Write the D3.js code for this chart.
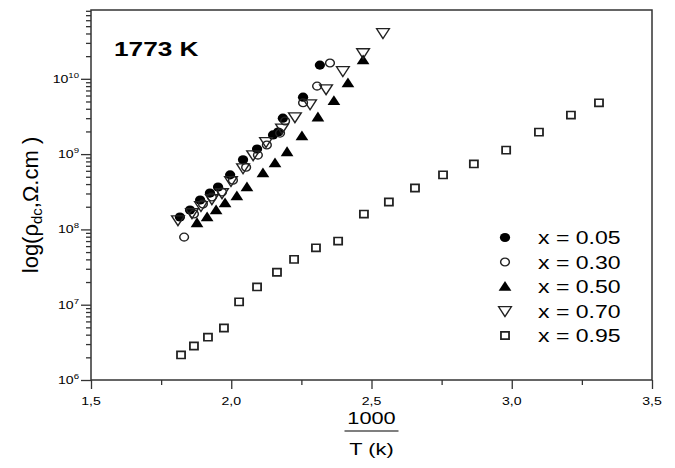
<!DOCTYPE html>
<html lang="en">
<head>
<meta charset="utf-8">
<script src="https://cdn.jsdelivr.net/npm/d3@7"></script>
<style>
    body { margin: 0; background: #fff; }
    text { font-family: Arial, "Liberation Sans", sans-serif; fill: #000; }
</style>
</head>
<body>
<div id="graph"></div>
<script>
    // 1000/T values and resistivity (Ohm.cm), one pair of arrays per composition
    const x005 = [1.817, 1.853, 1.889, 1.924, 1.953, 1.996, 2.042, 2.092, 2.149, 2.167, 2.184, 2.256, 2.316];
    const rho005 = [1.46e8, 1.81e8, 2.46e8, 3.04e8, 3.66e8, 5.3e8, 8.4e8, 1.17e9, 1.8e9, 1.96e9, 3.0e9, 5.7e9, 1.52e10];

    const x030 = [1.832, 1.867, 1.899, 1.931, 1.967, 2.006, 2.053, 2.095, 2.127, 2.174, 2.192, 2.256, 2.306, 2.352];
    const rho030 = [7.9e7, 1.6e8, 2.17e8, 2.69e8, 3.14e8, 4.5e8, 6.7e8, 9.7e8, 1.32e9, 1.9e9, 2.75e9, 4.8e9, 8.0e9, 1.62e10];

    const x050 = [1.878, 1.914, 1.946, 1.978, 2.020, 2.056, 2.113, 2.156, 2.199, 2.252, 2.309, 2.366, 2.416, 2.470];
    const rho050 = [1.22e8, 1.46e8, 1.81e8, 2.24e8, 2.78e8, 3.66e8, 5.6e8, 7.6e8, 1.07e9, 1.74e9, 3.1e9, 5.1e9, 8.8e9, 1.78e10];

    const x070 = [1.810, 1.860, 1.892, 1.931, 1.967, 1.999, 2.042, 2.078, 2.124, 2.181, 2.227, 2.281, 2.338, 2.398, 2.470, 2.541];
    const rho070 = [1.33e8, 1.65e8, 2.05e8, 2.53e8, 3.04e8, 4.4e8, 6.5e8, 9.7e8, 1.45e9, 2.2e9, 3.1e9, 4.6e9, 7.3e9, 1.27e10, 2.2e10, 4.06e10];

    const x095 = [1.821, 1.867, 1.917, 1.974, 2.028, 2.092, 2.163, 2.224, 2.302, 2.381, 2.473, 2.562, 2.655, 2.755, 2.865, 2.980, 3.097, 3.211, 3.311];
    const rho095 = [2.15e6, 2.83e6, 3.7e6, 4.9e6, 1.09e7, 1.72e7, 2.7e7, 4.0e7, 5.7e7, 7.0e7, 1.6e8, 2.31e8, 3.55e8, 5.3e8, 7.4e8, 1.13e9, 1.96e9, 3.3e9, 4.8e9];

    const seriesLabels = ["x = 0.05", "x = 0.30", "x = 0.50", "x = 0.70", "x = 0.95"];
    const xTicks = [1.5, 2.0, 2.5, 3.0, 3.5];
    const xMinorTicks = [1.75, 2.25, 2.75, 3.25];
    const yTicks = [1e6, 1e7, 1e8, 1e9, 1e10];

    const series = [
        { label: seriesLabels[0], xs: x005, ys: rho005, shape: "circle", filled: true },
        { label: seriesLabels[1], xs: x030, ys: rho030, shape: "circle", filled: false },
        { label: seriesLabels[2], xs: x050, ys: rho050, shape: "up", filled: true },
        { label: seriesLabels[3], xs: x070, ys: rho070, shape: "down", filled: false },
        { label: seriesLabels[4], xs: x095, ys: rho095, shape: "square", filled: false }
    ];

    const width = 675, height = 468;
    const m = { left: 91, right: 652, top: 10, bottom: 380 };
    const stretch = 1.28;   // the original lettering is wide

    const svg = d3.select("#graph").append("svg")
        .attr("width", width)
        .attr("height", height);

    const x = d3.scaleLinear().domain([1.5, 3.5]).range([m.left, m.right]);
    const y = d3.scaleLog().domain([1e6, 8.2e10]).range([m.bottom, m.top]);

    // wide text helper
    function wideText(g, tx, ty, str, size, anchor, weight) {
        return g.append("text")
            .attr("transform", `translate(${tx},${ty}) scale(${stretch},1)`)
            .attr("text-anchor", anchor || "start")
            .attr("font-size", size)
            .attr("font-weight", weight || "normal")
            .text(str);
    }

    // x axis
    svg.append("g")
        .attr("transform", `translate(0,${m.bottom})`)
        .call(d3.axisBottom(x).tickValues(xTicks).tickSize(9).tickFormat(""));
    svg.append("g")
        .attr("transform", `translate(0,${m.bottom})`)
        .call(d3.axisBottom(x).tickValues(xMinorTicks).tickSize(5).tickFormat(""));

    xTicks.forEach(v => {
        wideText(svg, x(v), 405, d3.format(".1f")(v).replace(".", ","), 11, "middle");
    });

    // y axis, major + minor
    svg.append("g")
        .attr("transform", `translate(${m.left},0)`)
        .call(d3.axisLeft(y).tickValues(yTicks).tickSize(10).tickFormat(""));
    const yMinor = y.ticks().filter(v => !yTicks.includes(v));
    svg.append("g")
        .attr("transform", `translate(${m.left},0)`)
        .call(d3.axisLeft(y).tickValues(yMinor).tickSize(5).tickFormat(""));

    yTicks.forEach(v => {
        const t = svg.append("text")
            .attr("transform", `translate(79,${y(v) + 4}) scale(${stretch},1)`)
            .attr("text-anchor", "end")
            .attr("font-size", 11);
        t.append("tspan").text("10");
        t.append("tspan").attr("font-size", 7.5).attr("dy", -5).text(Math.round(Math.log10(v)));
    });

    svg.selectAll(".domain").remove();
    svg.selectAll(".tick line").attr("stroke", "#333").attr("stroke-width", 1.3);

    // frame
    svg.append("rect")
        .attr("x", m.left).attr("y", m.top)
        .attr("width", m.right - m.left).attr("height", m.bottom - m.top)
        .attr("fill", "none")
        .attr("stroke", "#333")
        .attr("stroke-width", 1.5);

    // markers
    function drawMarker(g, s, cx, cy) {
        let path;
        if (s.shape === "circle") path = d3.symbol(d3.symbolCircle, s.filled ? 66 : 48)();
        else if (s.shape === "square") path = d3.symbol(d3.symbolSquare, 52)();
        else path = d3.symbol(d3.symbolTriangle, 56)();
        const rot = s.shape === "down" ? " rotate(180)" : "";
        const dy = s.shape === "up" ? 1 : (s.shape === "down" ? -1 : 0);
        g.append("path")
            .attr("d", path)
            .attr("transform", `translate(${cx},${cy + dy}) scale(1.12,1)${rot}`)
            .attr("fill", s.filled ? "#000" : "#fff")
            .attr("fill-opacity", s.filled ? 1 : 0)
            .attr("stroke", s.filled ? "none" : "#222")
            .attr("stroke-width", s.shape === "square" ? 1.6 : 1.3);
    }

    const plot = svg.append("g");
    series.forEach(s => {
        s.xs.forEach((xv, i) => drawMarker(plot, s, x(xv), y(s.ys[i])));
    });

    // legend
    const legend = svg.append("g");
    series.forEach((s, i) => {
        const ly = 237.5 + i * 24.5;
        drawMarker(legend, s, 505, ly);
        wideText(legend, 538, ly + 6.5, s.label, 18, "start");
    });

    // title
    wideText(svg, 114, 56, "1773 K", 20.5, "start", "bold");

    // y label
    const yl = svg.append("text")
        .attr("transform", `translate(38,205) rotate(-90)`)
        .attr("text-anchor", "middle")
        .attr("font-size", 22);
    yl.append("tspan").text("log(\u03c1");
    yl.append("tspan").attr("font-size", 15).attr("dy", 4).text("dc");
    yl.append("tspan").attr("dy", -4).text(",\u03a9.cm )");

    // x label as a fraction
    const cx = x(2.5);
    wideText(svg, cx, 424, "1000", 17, "middle");
    svg.append("line")
        .attr("x1", cx - 27).attr("x2", cx + 27)
        .attr("y1", 431).attr("y2", 431)
        .attr("stroke", "#000").attr("stroke-width", 1.2);
    wideText(svg, cx, 455, "T (k)", 17, "middle");
</script>
</body>
</html>
